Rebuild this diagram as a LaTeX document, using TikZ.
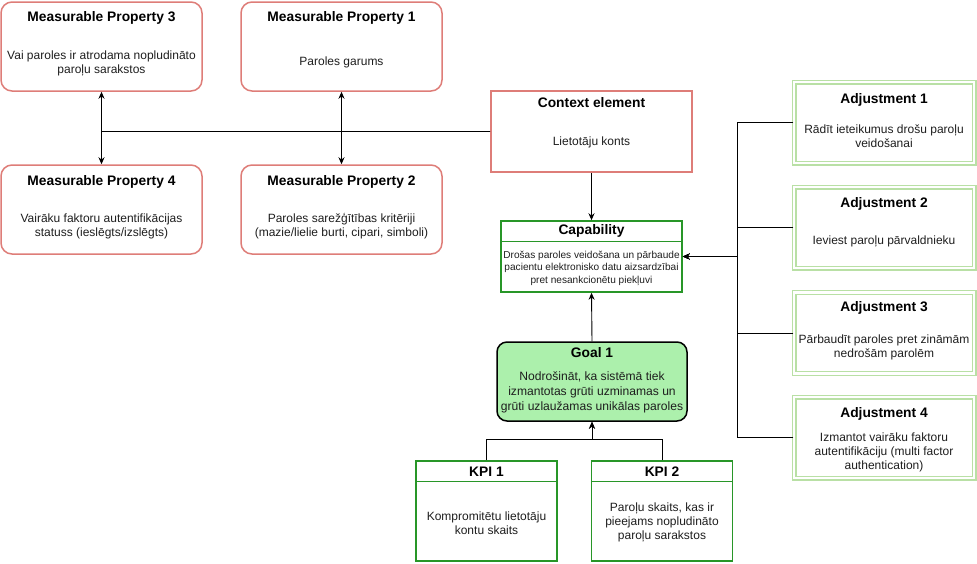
\documentclass[tikz,border=0pt]{standalone}
\usepackage{fontspec}
\setmainfont{Liberation Sans}
\usetikzlibrary{arrows.meta,positioning}
\definecolor{propRed}{RGB}{222,125,120}
\definecolor{capGreen}{RGB}{40,150,40}
\definecolor{adjGreen}{RGB}{185,224,165}
\definecolor{goalFill}{RGB}{172,240,172}
\definecolor{ink}{RGB}{30,30,30}
\tikzset{
  propbox/.style={
    draw=propRed,
    line width=1.5pt,
    rounded corners=11pt,
    minimum width=201pt,
    minimum height=89pt,
    inner sep=0pt
  },
  ctxbox/.style={draw=propRed, line width=1.5pt, minimum width=201pt, minimum height=81pt, inner sep=0pt},
  lanebox/.style={draw=capGreen, line width=1.5pt, inner sep=0pt},
  adjbox/.style={
    draw=adjGreen,
    double=white,
    double distance=2.4pt,
    line width=1.3pt,
    minimum width=180pt,
    minimum height=81pt,
    inner sep=0pt
  },
  goalbox/.style={
    draw=black,
    fill=goalFill,
    line width=1.5pt,
    rounded corners=10pt,
    minimum width=190pt,
    minimum height=79pt,
    inner sep=0pt
  },
  ttl/.style={font=\fontsize{13.8}{15}\selectfont\bfseries, inner sep=0pt},
  txt/.style={font=\fontsize{12}{14}\selectfont, align=center, inner sep=0pt, text=ink},
  smalltxt/.style={font=\fontsize{10.1}{12.5}\selectfont, align=center, inner sep=0pt, text=ink},
  link/.style={-{Stealth[length=7pt,width=6pt]}, line width=0.9pt},
}

\begin{document}
\begin{tikzpicture}[x=1pt,y=-1pt]
\useasboundingbox (0,0) rectangle (977,563);

% measurable properties
\node[propbox] (mp3) at (101.5,46.5) {};
\node[ttl] (mp3t) at ([yshift=-17pt]mp3.north) {Measurable Property 3};
\node[txt] (mp3b) at ([yshift=-16.5pt]mp3.center) {Vai paroles ir atrodama nopludināto\\paroļu sarakstos};

\node[propbox] (mp1) at (341.5,46.5) {};
\node[ttl] (mp1t) at ([yshift=-17pt]mp1.north) {Measurable Property 1};
\node[txt] (mp1b) at ([yshift=-16pt]mp1.center) {Paroles garums};

\node[propbox] (mp4) at (101.5,209.5) {};
\node[ttl] (mp4t) at ([yshift=-18pt]mp4.north) {Measurable Property 4};
\node[txt] (mp4b) at ([yshift=-17pt]mp4.center) {Vairāku faktoru autentifikācijas\\statuss (ieslēgts/izslēgts)};

\node[propbox] (mp2) at (341.5,209.5) {};
\node[ttl] (mp2t) at ([yshift=-18pt]mp2.north) {Measurable Property 2};
\node[txt] (mp2b) at ([yshift=-17pt]mp2.center) {Paroles sarežģītības kritēriji\\(mazie/lielie burti, cipari, simboli)};

% context
\node[ctxbox] (ctx) at (591.5,131.5) {};
\node[ttl] (ctxt) at ([yshift=-12pt]ctx.north) {Context element};
\node[txt] (ctxb) at ([yshift=-10.5pt]ctx.center) {Lietotāju konts};

% capability
\node[lanebox, minimum width=181pt, minimum height=71pt] (cap) at (591.5,256.5) {};
\draw[capGreen, line width=1.5pt] ([yshift=-21pt]cap.north west) -- ([yshift=-21pt]cap.north east);
\node[ttl] (capt) at ([yshift=-11pt]cap.north) {Capability};
\node[smalltxt] (capb) at ([yshift=-11.5pt]cap.center) {Drošas paroles veidošana un pārbaude\\pacientu elektronisko datu aizsardzībai\\pret nesankcionētu piekļuvi};

% adjustments
\node[adjbox] (adj1) at (884,122.5) {};
\node[ttl] (adj1t) at ([yshift=-18.5pt]adj1.north) {Adjustment 1};
\node[txt] (adj1b) at ([yshift=-13.5pt]adj1.center) {Rādīt ieteikumus drošu paroļu\\veidošanai};

\node[adjbox] (adj2) at (884,227.5) {};
\node[ttl] (adj2t) at ([yshift=-17.5pt]adj2.north) {Adjustment 2};
\node[txt] (adj2b) at ([yshift=-14pt]adj2.center) {Ieviest paroļu pārvaldnieku};

\node[adjbox] (adj3) at (884,333) {};
\node[ttl] (adj3t) at ([yshift=-16.5pt]adj3.north) {Adjustment 3};
\node[txt] (adj3b) at ([yshift=-14pt]adj3.center) {Pārbaudīt paroles pret zināmām\\nedrošām parolēm};

\node[adjbox] (adj4) at (884,437.5) {};
\node[ttl] (adj4t) at ([yshift=-17.5pt]adj4.north) {Adjustment 4};
\node[txt] (adj4b) at ([yshift=-14.5pt]adj4.center) {Izmantot vairāku faktoru\\autentifikāciju (multi factor\\authentication)};

% goal
\node[goalbox] (goal) at (592,381.5) {};
\node[ttl] (goalt) at ([yshift=-11pt]goal.north) {Goal 1};
\node[txt, font=\fontsize{12.1}{15}\selectfont] (goalb) at ([yshift=-11pt]goal.center) {Nodrošināt, ka sistēmā tiek\\izmantotas grūti uzminamas un\\grūti uzlaužamas unikālas paroles};

% kpis
\node[lanebox, minimum width=141pt, minimum height=100pt] (kpi1) at (486.5,511) {};
\draw[capGreen, line width=1.5pt] ([yshift=-21pt]kpi1.north west) -- ([yshift=-21pt]kpi1.north east);
\node[ttl] (kpi1t) at ([yshift=-11pt]kpi1.north) {KPI 1};
\node[txt] (kpi1b) at ([yshift=-12pt]kpi1.center) {Kompromitētu lietotāju\\kontu skaits};

\node[lanebox, minimum width=141pt, minimum height=100pt] (kpi2) at (662,511) {};
\draw[capGreen, line width=1.5pt] ([yshift=-21pt]kpi2.north west) -- ([yshift=-21pt]kpi2.north east);
\node[ttl] (kpi2t) at ([yshift=-11pt]kpi2.north) {KPI 2};
\node[txt] (kpi2b) at ([yshift=-11.5pt]kpi2.center) {Paroļu skaits, kas ir\\pieejams nopludināto\\paroļu sarakstos};

% connectors
\draw[link] (ctx.west) -| (mp3.south);
\draw[link] (ctx.west) -| (mp4.north);
\draw[link] (ctx.west) -| (mp1.south);
\draw[link] (ctx.west) -| (mp2.north);
\draw[link] (ctx.south) -- (cap.north);
\draw[link] (goal.north) -- (cap.south);
\draw[link] (kpi1.north) -- ++(0,-21) -| (goal.south);
\draw[link] (kpi2.north) -- ++(0,-21) -| (goal.south);
\foreach \a in {adj1,adj2,adj3,adj4}
  \draw[link] (\a.west) -- ++(-56,0) |- (cap.east);

\end{tikzpicture}
\end{document}
